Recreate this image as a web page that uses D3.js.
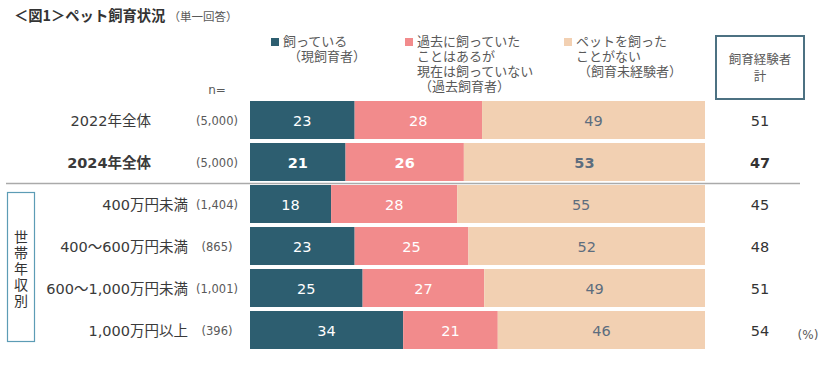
<!DOCTYPE html>
<html><head><meta charset="utf-8">
<script src="https://cdn.jsdelivr.net/npm/d3@7"></script>
<style>
body{margin:0;background:#fff;}
text{font-family:"DejaVu Sans","Noto Sans CJK JP",sans-serif;}
</style></head><body>
<svg id="c" width="837" height="366"></svg>
<script>
const categories = ["2022年全体","2024年全体","400万円未満","400～600万円未満","600～1,000万円未満","1,000万円以上"];
const nLabels = ["(5,000)","(5,000)","(1,404)","(865)","(1,001)","(396)"];
const current = [23,21,18,23,25,34];
const past = [28,26,28,25,27,21];
const never = [49,53,55,52,49,46];
const experienced = [51,47,45,48,51,54];
const seriesKeys = ["current","past","never"];
const legendLines = [
  ["飼っている","（現飼育者）"],
  ["過去に飼っていた","ことはあるが","現在は飼っていない","（過去飼育者）"],
  ["ペットを飼った","ことがない","（飼育未経験者）"]
];
const colors = ["#2d5e70","#f28b8c","#f2d0b2"];
const labelColors = ["#ffffff","#ffffff","#5d6d7e"];

const svg = d3.select("#c");
const rows = categories.map((c,i)=>({cat:c,current:current[i],past:past[i],never:never[i]}));
const stack = d3.stack().keys(seriesKeys).offset(d3.stackOffsetExpand);
const stacked = stack(rows);

const x = d3.scaleLinear().domain([0,1]).range([250,705]);
const y = d3.scaleBand().domain(categories).range([99,351]).paddingInner(4/42).paddingOuter(2/42);

// title
const t = svg.append("text").attr("x",14).attr("y",21).attr("fill","#333")
  .style("font-family","'Noto Sans CJK JP',sans-serif");
t.append("tspan").attr("font-size",14.3).attr("font-weight","bold").text("＜図1＞ペット飼育状況");
t.append("tspan").attr("font-size",11.5).attr("fill","#595959").attr("dx",3).text("（単一回答）");

// bars
const g = svg.append("g");
stacked.forEach((s,si)=>{
  g.selectAll(null).data(s).enter().append("rect")
    .attr("x",d=>x(d[0])).attr("width",d=>x(d[1])-x(d[0]))
    .attr("y",d=>y(d.data.cat)).attr("height",y.bandwidth())
    .attr("fill",colors[si]);
  g.selectAll(null).data(s).enter().append("text")
    .attr("x",d=>(x(d[0])+x(d[1]))/2)
    .attr("y",d=>y(d.data.cat)+y.bandwidth()/2+5.5)
    .attr("text-anchor","middle").attr("font-size",14.5)
    .attr("font-weight",(d,i)=>i===1?"bold":"normal")
    .attr("fill",labelColors[si])
    .text(d=>d.data[seriesKeys[si]]);
});

// category labels
svg.selectAll(null).data(categories).enter().append("text")
  .attr("x",(d,i)=>i<2?151:188)
  .attr("y",d=>y(d)+y.bandwidth()/2+5.5)
  .attr("text-anchor","end").attr("font-size",14.5)
  .attr("font-weight",(d,i)=>i===1?"bold":"normal")
  .attr("fill","#3a3a3a").text(d=>d);

// n labels
svg.append("text").attr("x",217).attr("y",94).attr("text-anchor","middle")
  .attr("font-size",12).attr("fill","#595959").text("n=");
svg.selectAll(null).data(nLabels).enter().append("text")
  .attr("x",217).attr("y",(d,i)=>y(categories[i])+y.bandwidth()/2+5)
  .attr("text-anchor","middle").attr("font-size",11.5).attr("fill","#595959").text(d=>d);

// totals
svg.selectAll(null).data(experienced).enter().append("text")
  .attr("x",760).attr("y",(d,i)=>y(categories[i])+y.bandwidth()/2+5.5)
  .attr("text-anchor","middle").attr("font-size",14.5)
  .attr("font-weight",(d,i)=>i===1?"bold":"normal")
  .attr("fill","#333").text(d=>d);
svg.append("text").attr("x",808).attr("y",339).attr("text-anchor","middle")
  .attr("font-size",12).attr("fill","#595959").text("(%)");

// totals header box
svg.append("rect").attr("x",716).attr("y",36).attr("width",88).attr("height",63)
  .attr("fill","none").attr("stroke","#4c7182").attr("stroke-width",2);
svg.append("text").attr("x",760).attr("y",64).attr("text-anchor","middle")
  .attr("font-size",12.5).attr("fill","#595959").text("飼育経験者");
svg.append("text").attr("x",760).attr("y",81).attr("text-anchor","middle")
  .attr("font-size",12.5).attr("fill","#595959").text("計");

// legend
const legX = [271,405,564];
legendLines.forEach((lines,i)=>{
  svg.append("rect").attr("x",legX[i]).attr("y",38).attr("width",8).attr("height",8).attr("fill",colors[i]);
  lines.forEach((ln,j)=>{
    svg.append("text").attr("x",legX[i]+12+(ln.startsWith("（")?2:0)+(i===0&&j===1?3:0))
      .attr("y",46+j*15).attr("font-size",13).attr("fill","#595959").text(ln);
  });
});

// separator
const yb = y(categories[1])+y.bandwidth();
svg.append("line").attr("x1",6).attr("x2",800).attr("y1",yb+2.5).attr("y2",yb+2.5)
  .attr("stroke","#aaa").attr("stroke-width",1.5);

// group box
svg.append("rect").attr("x",7.5).attr("y",192.5).attr("width",27).attr("height",149)
  .attr("fill","none").attr("stroke","#5c9cb5").attr("stroke-width",1.2);
["世","帯","年","収","別"].forEach((ch,i)=>{
  svg.append("text").attr("x",21).attr("y",242+i*16).attr("text-anchor","middle")
    .attr("font-size",14).attr("fill","#333").text(ch);
});
</script></body></html>
